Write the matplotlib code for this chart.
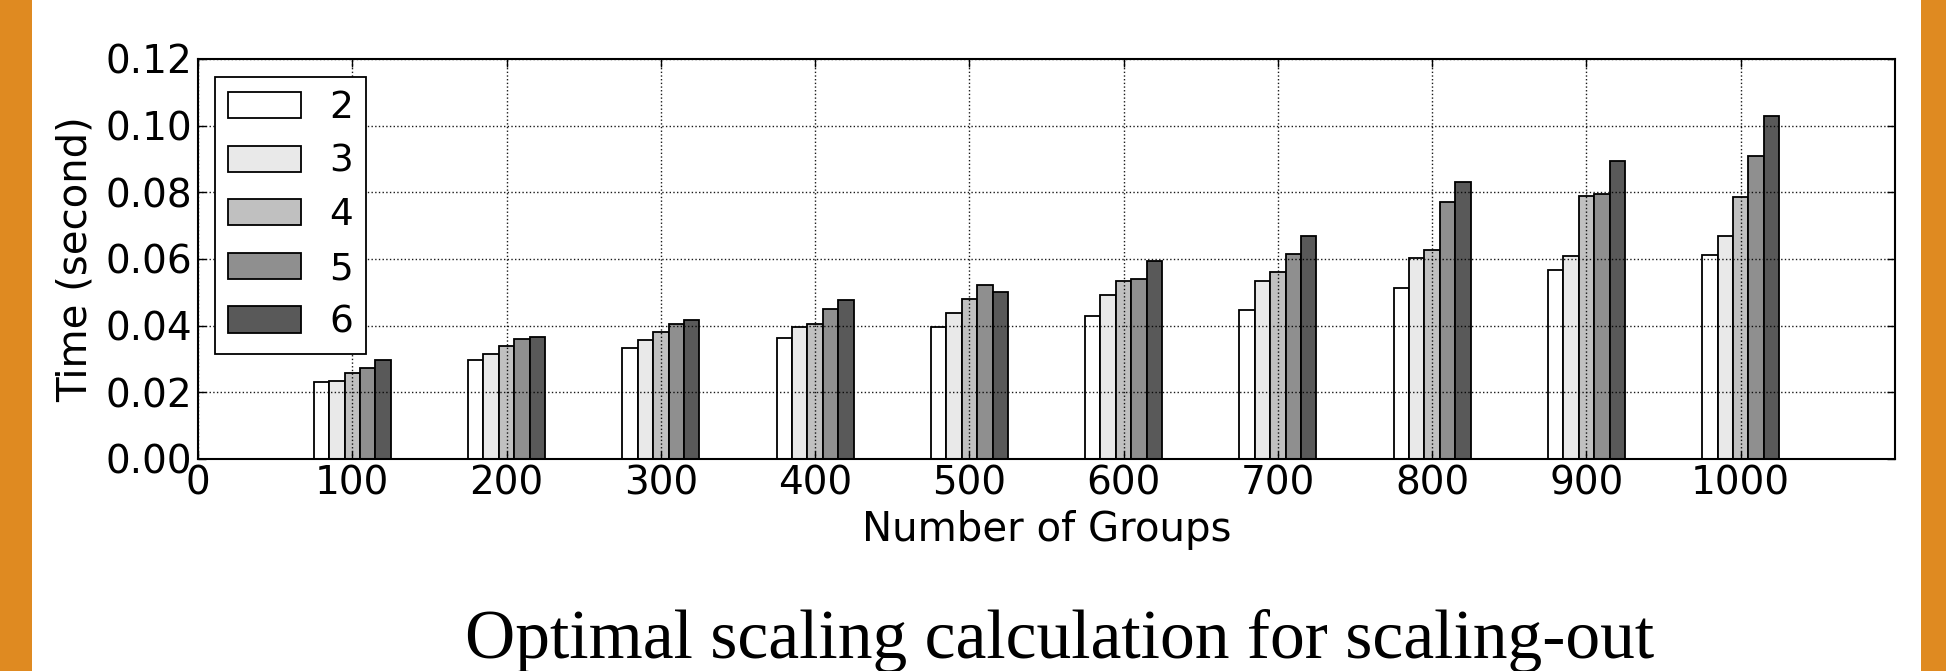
import matplotlib
matplotlib.use("Agg")
import matplotlib.pyplot as plt
from matplotlib.patches import Rectangle
import numpy as np

groups = [100, 200, 300, 400, 500, 600, 700, 800, 900, 1000]
series_labels = ["2", "3", "4", "5", "6"]
s2 = [0.0232, 0.0297, 0.0334, 0.0364, 0.0396, 0.0428, 0.0446, 0.0514, 0.0568, 0.0613]
s3 = [0.0235, 0.0314, 0.0356, 0.0396, 0.0439, 0.0491, 0.0535, 0.0603, 0.0608, 0.0668]
s4 = [0.0257, 0.0339, 0.0382, 0.0404, 0.0481, 0.0535, 0.0560, 0.0626, 0.0789, 0.0787]
s5 = [0.0272, 0.0359, 0.0404, 0.0451, 0.0521, 0.0541, 0.0615, 0.0770, 0.0795, 0.0910]
s6 = [0.0297, 0.0366, 0.0416, 0.0476, 0.0501, 0.0595, 0.0670, 0.0832, 0.0895, 0.1029]
series = [s2, s3, s4, s5, s6]
colors = ["#ffffff", "#e9e9e9", "#c0c0c0", "#8f8f8f", "#595959"]

W, H = 1946, 671
fig = plt.figure(figsize=(W / 100, H / 100), dpi=100)
fig.patch.set_facecolor("white")

# orange side bands
fig.patches.append(Rectangle((0, 0), 32 / W, 1, transform=fig.transFigure,
                             facecolor="#df8a21", edgecolor="none", zorder=-5))
fig.patches.append(Rectangle((1921 / W, 0), 25 / W, 1, transform=fig.transFigure,
                             facecolor="#df8a21", edgecolor="none", zorder=-5))

ax = fig.add_axes([198 / W, 1 - 459 / H, (1895 - 198) / W, (459 - 59) / H])

bw = 10
x = np.array(groups, dtype=float)
for i, (vals, lab, c) in enumerate(zip(series, series_labels, colors)):
    ax.bar(x - 25 + i * bw, vals, width=bw, align="edge", color=c,
           edgecolor="black", linewidth=1.3, label=lab, zorder=1)

ax.set_xlim(0, 1100)
ax.set_ylim(0, 0.12)
ax.set_xticks([0] + groups)
ax.set_yticks(np.arange(0, 0.1201, 0.02))
ax.set_yticklabels([f"{v:.2f}" for v in np.arange(0, 0.1201, 0.02)])
ax.grid(True, linestyle=":", color="black", linewidth=1.0, alpha=0.9)
ax.set_axisbelow(False)
ax.tick_params(direction="in", top=True, right=True, length=6, width=1,
               labelsize=28, pad=4)
for sp in ax.spines.values():
    sp.set_linewidth(1.5)

ax.set_xlabel("Number of Groups", fontsize=29, labelpad=5)
ax.set_ylabel("Time (second)", fontsize=29, labelpad=7)

leg = ax.legend(loc="upper left", fontsize=27, fancybox=False,
                edgecolor="black", framealpha=1, handlelength=1.95,
                handleheight=0.7, labelspacing=0.47, borderpad=0.35,
                handletextpad=0.75, borderaxespad=0,
                bbox_to_anchor=(17 / 1697, 1 - 18 / 400))
leg.get_frame().set_linewidth(1.3)

fig.text(1060 / W, 1 - 658 / H, "Optimal scaling calculation for scaling-out",
         family="Liberation Serif", fontsize=50, ha="center", va="baseline")

fig.savefig("out.png", dpi=100, facecolor="white")
